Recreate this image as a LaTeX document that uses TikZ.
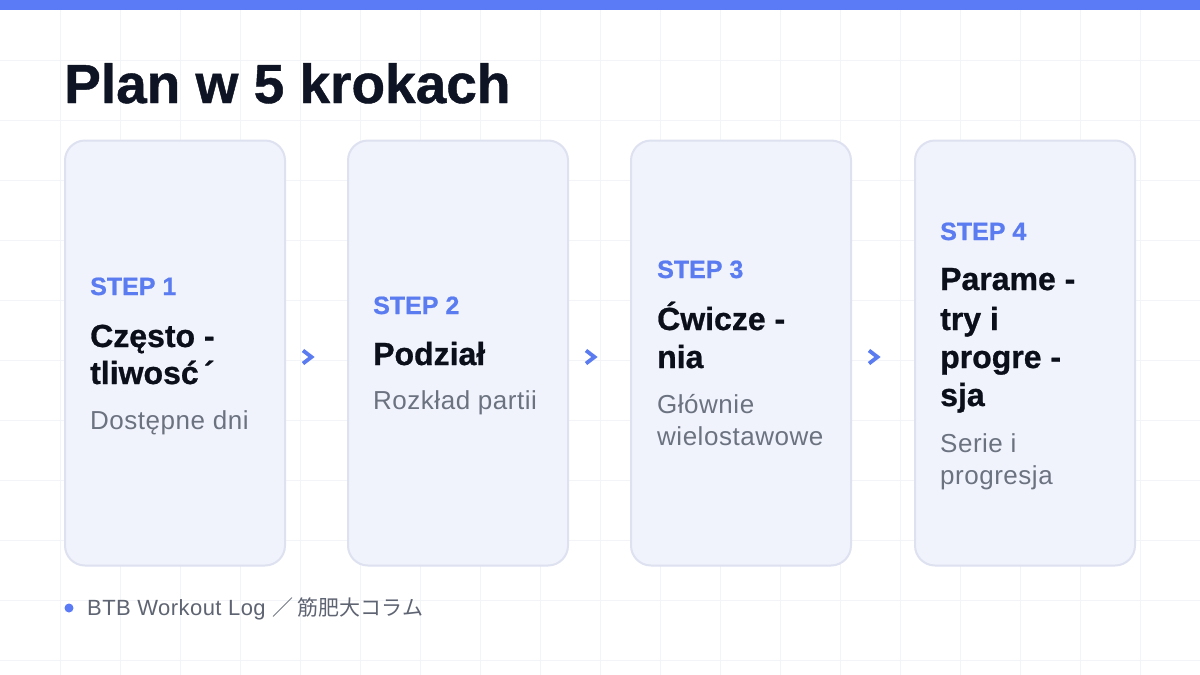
\documentclass[tikz,border=0pt]{standalone}
\usepackage{fontspec}
\usetikzlibrary{calc}
\setmainfont{Liberation Sans}
\newfontfamily\subfam{Liberation Sans}[LetterSpace=2]
\newfontfamily\heavyfam{Liberation Sans Bold}[FakeBold=0.8]
\newfontfamily\jpfam{Noto Sans CJK JP}
\definecolor{topblue}{HTML}{5B7BF6}
\definecolor{stepblue}{HTML}{5B7CF0}
\definecolor{titleink}{HTML}{0E1424}
\definecolor{headink}{HTML}{0B0F1A}
\definecolor{subgrey}{HTML}{6B7280}
\definecolor{footgrey}{HTML}{5E6472}
\definecolor{cardfill}{HTML}{F1F3FC}
\definecolor{cardline}{HTML}{DDE1F0}
\definecolor{gridline}{HTML}{F3F4F7}
\tikzset{
  card/.style={draw=cardline, line width=2pt, fill=cardfill, rounded corners=20pt,
    minimum width=220pt, minimum height=425pt, inner sep=0pt},
  steplbl/.style={anchor=base west, inner sep=0pt, text=stepblue, font=\fontsize{25}{30}\selectfont\heavyfam},
  headlbl/.style={anchor=base west, inner sep=0pt, text=headink, font=\fontsize{32}{38}\selectfont\heavyfam},
  sublbl/.style={anchor=base west, inner sep=0pt, text=subgrey, font=\fontsize{26}{33}\selectfont\subfam},
  chev/.style={draw=stepblue, line width=3.8pt, line join=miter, line cap=butt},
}
\begin{document}
\begin{tikzpicture}[x=1pt,y=-1pt]
\useasboundingbox (0,0) rectangle (1200,675);
\fill[white] (0,0) rectangle (1200,675);
% grid
\foreach \gx in {60,120,...,1140} \draw[gridline, line width=1pt] (\gx,0) -- (\gx,675);
\foreach \gy in {60,120,...,660} \draw[gridline, line width=1pt] (0,\gy) -- (1200,\gy);
% top bar
\fill[topblue] (0,0) rectangle (1200,10);
% title
\node[anchor=base west, inner sep=0pt, text=titleink, font=\fontsize{55}{60}\selectfont\heavyfam] (title) at (64,103) {Plan w 5 krokach};
% cards
\node[card] (c1) at (175,353) {};
\node[card] (c2) at (458,353) {};
\node[card] (c3) at (741,353) {};
\node[card] (c4) at (1025,353) {};
% card 1
\node[steplbl] (s1) at (90,295) {STEP 1};
\node[headlbl] (h1a) at (90,347) {Często -};
\node[headlbl] (h1b) at (90,384) {tliwosć\,´};
\node[sublbl] (d1) at (90,429) {Dostępne dni};
% card 2
\node[steplbl] (s2) at (373,314) {STEP 2};
\node[headlbl] (h2a) at (373,365) {Podział};
\node[sublbl] (d2) at (373,409) {Rozkład partii};
% card 3
\node[steplbl] (s3) at (657,278) {STEP 3};
\node[headlbl] (h3a) at (657,330) {Ćwicze -};
\node[headlbl] (h3b) at (657,368) {nia};
\node[sublbl] (d3a) at (657,413) {Głównie};
\node[sublbl] (d3b) at (657,445) {wielostawowe};
% card 4
\node[steplbl] (s4) at (940,240) {STEP 4};
\node[headlbl] (h4a) at (940,290) {Parame -};
\node[headlbl] (h4b) at (940,330) {try i};
\node[headlbl] (h4c) at (940,368) {progre -};
\node[headlbl] (h4d) at (940,406) {sja};
\node[sublbl] (d4a) at (940,452) {Serie i};
\node[sublbl] (d4b) at (940,484) {progresja};
% chevrons between cards
\coordinate (a1) at ($(c1.east)+(22,4)$);
\coordinate (a2) at ($(c2.east)+(22,4)$);
\coordinate (a3) at ($(c3.east)+(22,4)$);
\foreach \a in {a1,a2,a3}
  \draw[chev] ($(\a)+(-5,-6.5)$) -- ($(\a)+(3.5,0)$) -- ($(\a)+(-5,6.5)$);
% footer
\fill[topblue] (69,608) circle (4.5);
\node[anchor=base west, inner sep=0pt, text=footgrey, font=\fontsize{22}{26}\selectfont\subfam] (foot) at (87,615) {BTB Workout Log {\jpfam\fontsize{21}{26}\selectfont ／ 筋肥大コラム}};
\end{tikzpicture}
\end{document}
